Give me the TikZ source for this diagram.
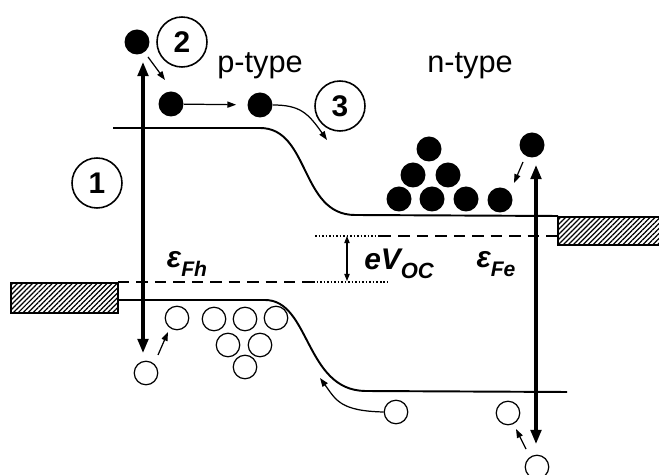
\documentclass[tikz,border=0pt]{standalone}
\usepackage{fontspec}
\setmainfont{Liberation Sans}
\usetikzlibrary{arrows.meta,patterns.meta}

\begin{document}
\begin{tikzpicture}[x=0.02cm,y=-0.02cm,
        el/.style={circle,fill=black,minimum size=0.5cm,inner sep=0pt},
        ho/.style={circle,draw,line width=0.7pt,minimum size=0.47cm,inner sep=0pt},
        num/.style={circle,draw,line width=0.9pt,minimum size=1cm,inner sep=0pt,font=\fontsize{17}{17}\selectfont\bfseries},
        lbl/.style={font=\fontsize{17.5}{20}\selectfont},
        lvl/.style={font=\fontsize{17}{17}\selectfont\bfseries\itshape},
        band/.style={line width=1.1pt},
        fermi/.style={line width=1.2pt,dash pattern=on 6.5pt off 4pt},
        fermidot/.style={line width=1.2pt,dash pattern=on 1pt off 1pt},
        hatch/.style={draw,line width=0.8pt,pattern={Lines[angle=45,distance=2pt,line width=0.7pt]}},
        bigarrow/.style={{Triangle[length=8pt,width=6pt]}-{Triangle[length=8pt,width=6pt]},line width=1.8pt},
        smallarrow/.style={-{Triangle[length=5pt,width=3.5pt]},line width=0.7pt}]
        \useasboundingbox (0,0) rectangle (659,475);
        % contacts
        \draw[hatch] (11,283) rectangle (118,313);
        \draw[hatch] (558,217) rectangle (662,245);
        % bands
        \draw[band] (113,128) -- (260,128) .. controls (310,128) and (300,215) .. (355,215) -- (558,216);
        \draw[band] (118,300) -- (265,300) .. controls (310,300) and (305,390) .. (365,391) -- (567,392);
        % quasi Fermi levels
        \draw[fermi] (118,282) -- (313,282);
        \draw[fermidot] (313,282) -- (387,282);
        \draw[fermidot] (315,236) -- (380,236);
        \draw[fermi] (380,236) -- (558,236);
        \coordinate (vtop) at (347,236);
        \coordinate (vbot) at (347,281);
        \draw[{Triangle[length=4pt,width=3pt]}-{Triangle[length=4pt,width=3pt]},line width=0.6pt] (vtop) -- (vbot);
        \node[lvl] (efh) at (187,264) {ε\raisebox{-5pt}{\fontsize{12}{12}\selectfont Fh}};
        \node[lvl] (voc) at (399,264) {eV\raisebox{-5pt}{\fontsize{12.5}{12}\selectfont OC}};
        \node[lvl] (efe) at (496,264) {ε\raisebox{-5pt}{\fontsize{12}{12}\selectfont Fe}};
        \node[lbl] (ptype) at (260,66) {p-type};
        \node[lbl] (ntype) at (470,66) {n-type};
        % steps
        \node[num] (n1) at (97,183) {1};
        \node[num] (n2) at (182,42) {2};
        \node[num] (n3) at (340,106) {3};
        % electrons
        \node[el] (e1) at (137,42) {};
        \node[el] (e2) at (171,104) {};
        \node[el] (e3) at (260,105) {};
        \node[el] (e4) at (429,149) {};
        \node[el] (e5) at (413,175) {};
        \node[el] (e6) at (448,175) {};
        \node[el] (e7) at (399,199) {};
        \node[el] (e8) at (432,199) {};
        \node[el] (e9) at (466,199) {};
        \node[el] (e10) at (500,200) {};
        \node[el] (e11) at (532,145) {};
        % holes
        \node[ho] (h1) at (177,318) {};
        \node[ho] (h2) at (146,373) {};
        \node[ho] (h3) at (214,319) {};
        \node[ho] (h4) at (245,319) {};
        \node[ho] (h5) at (276,318) {};
        \node[ho] (h6) at (228,345) {};
        \node[ho] (h7) at (260,345) {};
        \node[ho] (h8) at (245,367) {};
        \node[ho] (h9) at (396,412) {};
        \node[ho] (h10) at (508,413) {};
        \node[ho] (h11) at (537,467) {};
        % generation
        \coordinate (g1top) at (143,62);
        \coordinate (g1bot) at (143,353);
        \coordinate (g2top) at (536,165);
        \coordinate (g2bot) at (536,444);
        \draw[bigarrow] (g1top) -- (g1bot);
        \draw[bigarrow] (g2top) -- (g2bot);
        % relaxation and transport
        \coordinate (r1a) at (148,57);
        \coordinate (r1b) at (165,80);
        \coordinate (r2a) at (523,162);
        \coordinate (r2b) at (514,183);
        \coordinate (r3a) at (158,355);
        \coordinate (r3b) at (168,332);
        \coordinate (r4a) at (526,449);
        \coordinate (r4b) at (516,429);
        \coordinate (t3) at (327,140);
        \coordinate (t9) at (320,378);
        \draw[smallarrow] (r1a) -- (r1b);
        \draw[smallarrow] (r2a) -- (r2b);
        \draw[smallarrow] (r3a) -- (r3b);
        \draw[smallarrow] (r4a) -- (r4b);
        \draw[smallarrow,shorten >=0.22cm] (e2) -- (e3);
        \draw[smallarrow] (e3.east) .. controls (300,105) and (308,113) .. (t3);
        \draw[smallarrow] (h9.west) .. controls (340,411) and (336,400) .. (t9);
    \end{tikzpicture}
\end{document}
